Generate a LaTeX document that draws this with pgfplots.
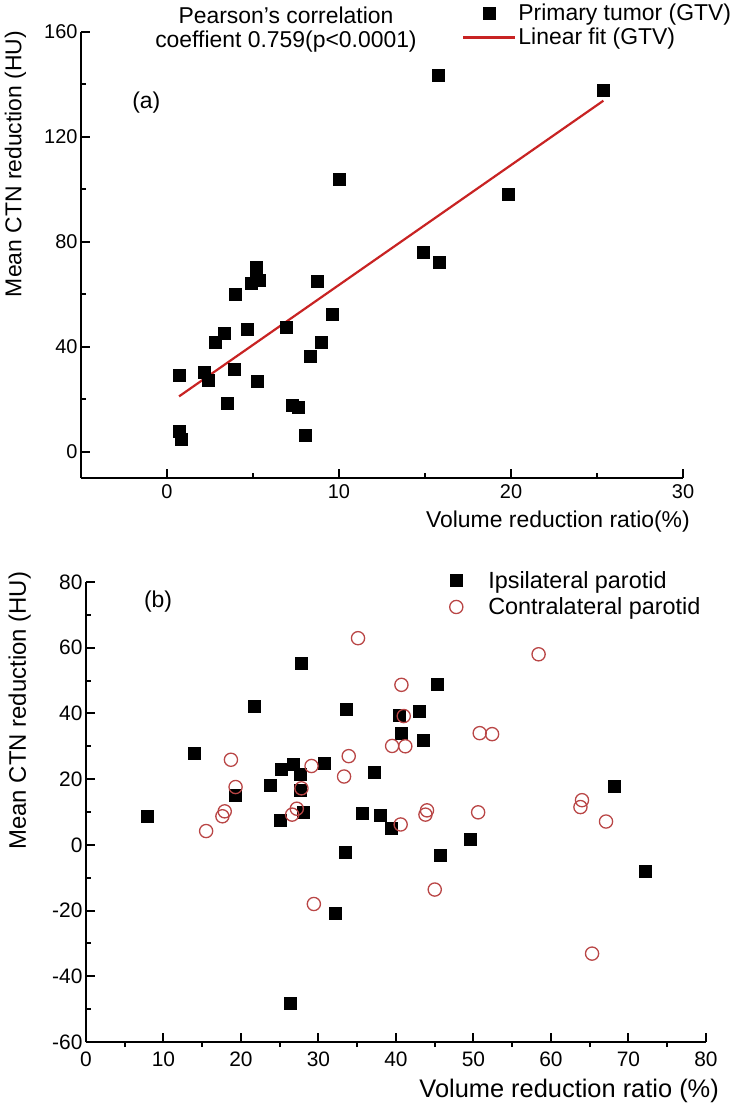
\documentclass[border=0pt]{standalone}
\usepackage{pgfplots}
\pgfplotsset{compat=1.18}
\usepackage{pgfplotstable}
\usepackage{fontspec}
\setmainfont{Liberation Sans}
\definecolor{fitred}{RGB}{200,35,35}
\definecolor{circred}{RGB}{185,70,70}

\pgfplotstableread{
x y
0.71 29.0
0.70 7.8
0.80 4.6
2.19 30.5
2.41 27.2
2.82 41.7
3.32 45.2
3.50 18.5
3.89 31.5
3.95 60.1
4.66 46.9
4.88 64.3
5.20 70.2
5.20 68.0
5.37 65.4
5.23 26.8
6.93 47.4
7.26 17.8
7.62 16.9
8.05 6.3
8.30 36.3
8.71 65.1
8.99 41.7
9.59 52.4
10.0 103.8
14.9 75.9
15.84 72.4
19.86 98.2
15.78 143.5
25.37 138.0
}\gtv

\pgfplotstableread{
x y
0.70 21.1
25.37 133.8
}\gtvfit

\pgfplotstableread{
x y
7.9 8.7
13.9 27.9
19.3 15.1
21.7 42.3
23.8 18.3
25.0 7.5
25.2 23.0
26.4 -48.3
26.7 24.6
27.7 21.5
27.6 16.5
27.8 55.4
28.0 9.8
30.7 24.8
32.2 -20.9
33.4 -2.3
33.6 41.4
35.7 9.7
37.2 22.0
38.0 9.0
39.4 5.2
40.4 39.6
40.7 34.0
43.0 40.6
43.5 31.9
45.3 49.0
45.7 -3.0
49.6 1.8
68.1 18.0
72.1 -8.1
}\ipsi

\pgfplotstableread{
x y
15.5 4.2
17.6 8.7
17.9 10.2
18.7 25.9
19.3 17.6
26.6 9.2
27.2 11.0
27.8 17.2
29.1 24.0
29.4 -18.0
33.3 20.8
33.9 27.0
35.1 62.9
39.5 30.1
40.6 6.2
40.7 48.7
41.0 39.2
41.2 30.0
43.8 9.2
44.0 10.5
45.0 -13.6
50.6 9.9
50.8 34.0
52.4 33.7
58.4 58.0
63.8 11.5
64.0 13.6
65.3 -33.1
67.1 7.1
}\contra

\pgfplotsset{
  mystyle/.style={
    scale only axis,
    anchor=south west,
    axis x line*=bottom, axis y line*=left,
    axis line style={-, line width=2.3bp, black},
    tick align=inside,
    major tick length=9bp, minor tick length=5bp,
    every tick/.style={black, line width=2bp},
    /pgf/number format/assume math mode=true,
    clip=false,
    legend cell align=left,
  },
  markleg/.style={legend image code/.code={\path[draw=none,fill=none] (0bp,-6bp) rectangle (52bp,6bp); \draw[mark repeat=2,mark phase=2,##1] plot coordinates {(0bp,0bp) (26bp,0bp) (52bp,0bp)};}},
  lineleg/.style={legend image code/.code={\path[draw=none,fill=none] (0bp,-6bp) rectangle (52bp,6bp); \draw[##1] (0bp,0bp) -- (52bp,0bp);}},
}

\begin{document}
\begin{tikzpicture}
\path[use as bounding box] (0,0) rectangle (740bp,1105bp);

% ---------- (a) ----------
\begin{axis}[mystyle,
  at={(81bp,627bp)}, width=602bp, height=446bp,
  xmin=-5, xmax=30, ymin=-10, ymax=160,
  xtick={0,10,20,30}, minor xtick={5,15,25},
  ytick={0,40,80,120,160}, minor ytick={20,60,100,140},
  tick label style={font=\fontsize{20}{24}\selectfont},
  xticklabel style={yshift=-3bp},
  xlabel={Volume reduction ratio(\%)},
  xlabel style={at={(axis description cs:1.0116,-0.11)}, anchor=base east, inner sep=0pt, font=\fontsize{23}{27}\selectfont},
  ylabel={Mean CTN reduction (HU)},
  ylabel style={at={(axis description cs:-0.099,0.704)}, anchor=base, inner sep=0pt, font=\fontsize{23}{27}\selectfont},
  legend style={at={(0.633,1.067)}, anchor=north west, draw=none, fill=none, inner xsep=0pt, inner ysep=0pt, row sep=2bp, font=\fontsize{23}{27}\selectfont},
]
\addplot[only marks, mark=square*, mark size=6bp, black, markleg] table[x=x,y=y] {\gtv};
\addlegendentry{Primary tumor (GTV)}
\addplot[fitred, line width=2.2bp, lineleg] table[x=x,y=y] {\gtvfit};
\addlegendentry{Linear fit (GTV)}
\node[font=\fontsize{23}{27}\selectfont] at (axis cs:-1.2,133) {(a)};
\node[font=\fontsize{23}{27}\selectfont] at (rel axis cs:0.3405,1.038) {Pearson's correlation};
\node[font=\fontsize{23}{27}\selectfont] at (rel axis cs:0.3405,0.979) {coeffient 0.759(p<0.0001)};
\end{axis}

% ---------- (b) ----------
\begin{axis}[mystyle,
  at={(86bp,63bp)}, width=620bp, height=460bp,
  xmin=0, xmax=80, ymin=-60, ymax=80,
  xtick={0,10,...,80}, minor xtick={5,15,...,75},
  ytick={-60,-40,...,80}, minor ytick={-50,-30,...,70},
  minor x tick style={yshift=-5bp},
  tick label style={font=\fontsize{21}{25}\selectfont},
  xticklabel style={yshift=-6bp},
  xlabel={Volume reduction ratio (\%)},
  xlabel style={at={(axis description cs:1.021,-0.1196)}, anchor=base east, inner sep=0pt, font=\fontsize{25.5}{30}\selectfont},
  ylabel={Mean CTN reduction (HU)},
  ylabel style={at={(axis description cs:-0.097,0.72)}, anchor=base, inner sep=0pt, font=\fontsize{24}{28}\selectfont},
  legend style={at={(0.555,1.028)}, anchor=north west, draw=none, fill=none, inner xsep=0pt, inner ysep=0pt, row sep=4bp, column sep=4bp, font=\fontsize{23.5}{28}\selectfont},
]
\addplot[only marks, mark=square*, mark size=6bp, black, markleg] table[x=x,y=y] {\ipsi};
\addlegendentry{Ipsilateral parotid}
\addplot[only marks, mark=o, mark size=6.6bp, circred, mark options={line width=1.3bp}, markleg] table[x=x,y=y] {\contra};
\addlegendentry{Contralateral parotid}
\node[font=\fontsize{23}{27}\selectfont] at (axis cs:9.3,73.9) {(b)};
\end{axis}
\end{tikzpicture}
\end{document}
